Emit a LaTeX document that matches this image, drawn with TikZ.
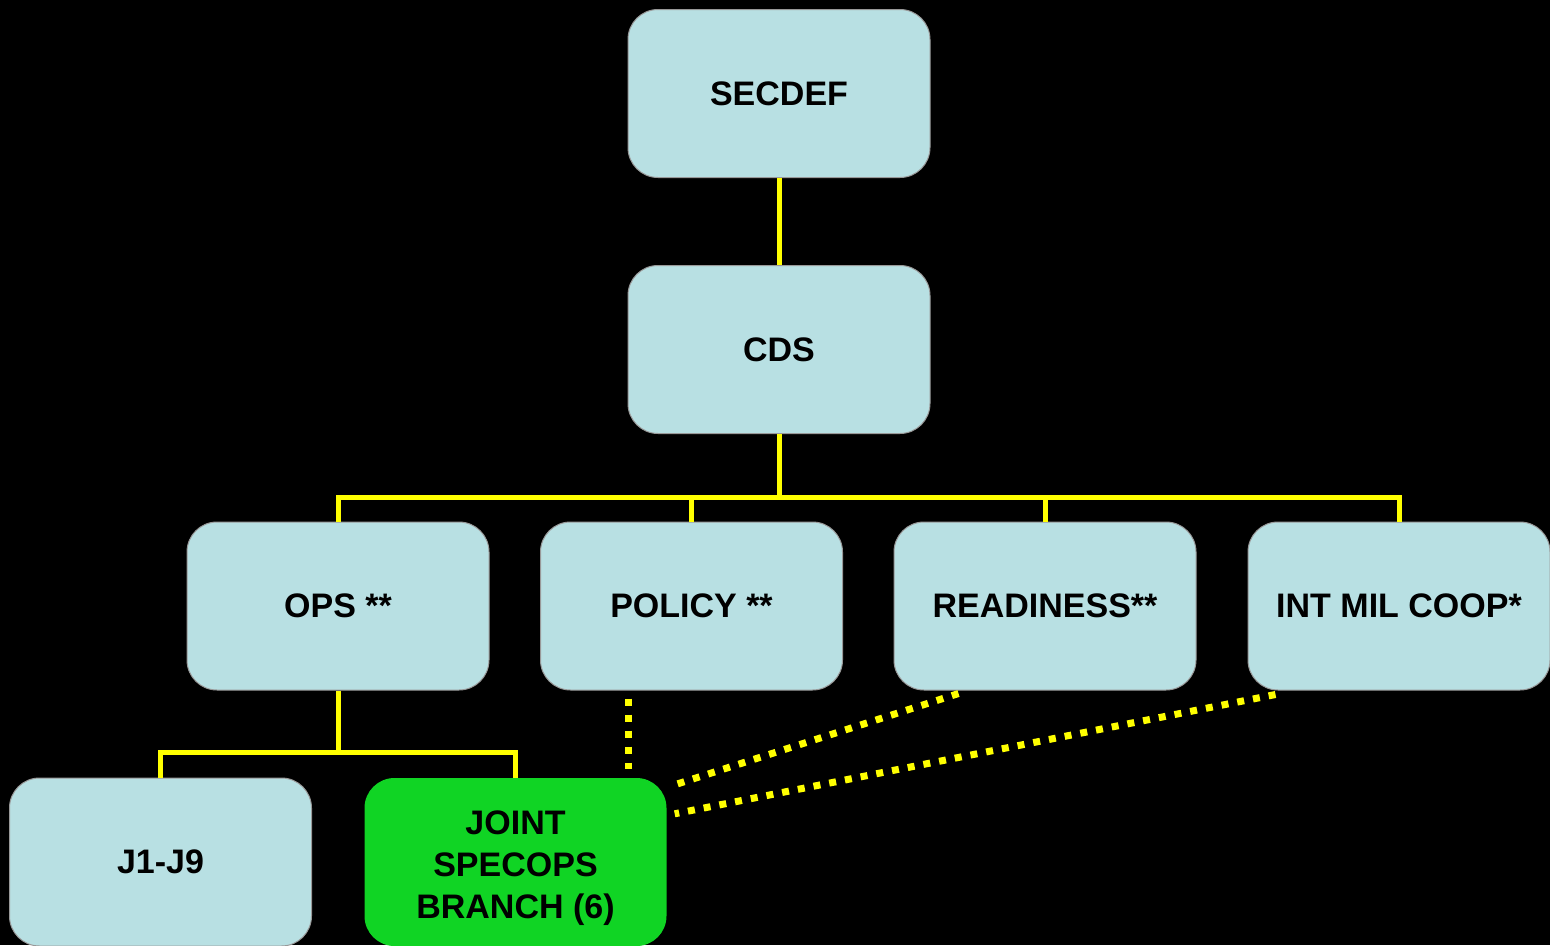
\documentclass[tikz,border=0pt]{standalone}
\usepackage{fontspec}
\setmainfont{Liberation Sans}
\definecolor{boxcyan}{HTML}{B8E0E3}
\definecolor{boxgreen}{HTML}{10D424}
\definecolor{lineyellow}{HTML}{FFFF00}
\begin{document}
\begin{tikzpicture}[x=1pt,y=-1pt,
  every node/.style={rectangle, rounded corners=30pt, minimum width=302pt, minimum height=168pt,
    align=center, inner sep=0pt, font=\fontsize{34}{42}\selectfont\bfseries},
  unit/.style={fill=boxcyan, draw=gray!80, line width=1pt},
  cell/.style={fill=boxgreen},
  tree/.style={draw=lineyellow, line width=5pt},
  link/.style={draw=lineyellow, line width=7pt, dash pattern=on 7pt off 9pt}]
  \fill[black] (0,0) rectangle (1550,945);
  \useasboundingbox (0,0) rectangle (1550,945);
  % boxes
  \node[unit] (secdef) at (779,93.5) {SECDEF};
  \node[unit] (cds) at (779,349.5) {CDS};
  \node[unit] (ops) at (338,606) {OPS **};
  \node[unit] (policy) at (691.5,606) {POLICY **};
  \node[unit] (readiness) at (1045,606) {READINESS**};
  \node[unit] (intmil) at (1399,606) {INT MIL COOP*};
  \node[unit] (j19) at (160.5,862) {J1-J9};
  \node[cell] (jsob) at (515.5,862) {JOINT\rule{0pt}{37pt}\\SPECOPS\\BRANCH (6)};
  % command lines
  \draw[tree] (secdef) -- (cds);
  \draw[tree] (cds.south) -- ++(0,63) coordinate (bus);
  \foreach \n in {ops,policy,readiness,intmil}
    \draw[tree] (bus) -| (\n.north);
  \draw[tree] (ops.south) -- ++(0,62) coordinate (opsbus);
  \foreach \n in {j19,jsob}
    \draw[tree] (opsbus) -| (\n.north);
  % coordination lines
  \draw[link] ([xshift=-63pt,yshift=-8pt]policy.south) -- ([xshift=113pt,yshift=9pt]jsob.north);
  \draw[link] ([xshift=65pt,yshift=-3pt]readiness.south west) -- ([xshift=8pt,yshift=-7pt]jsob.north east);
  \draw[link] ([xshift=28pt,yshift=-4pt]intmil.south west) -- ([xshift=8pt,yshift=-36pt]jsob.north east);
\end{tikzpicture}
\end{document}
